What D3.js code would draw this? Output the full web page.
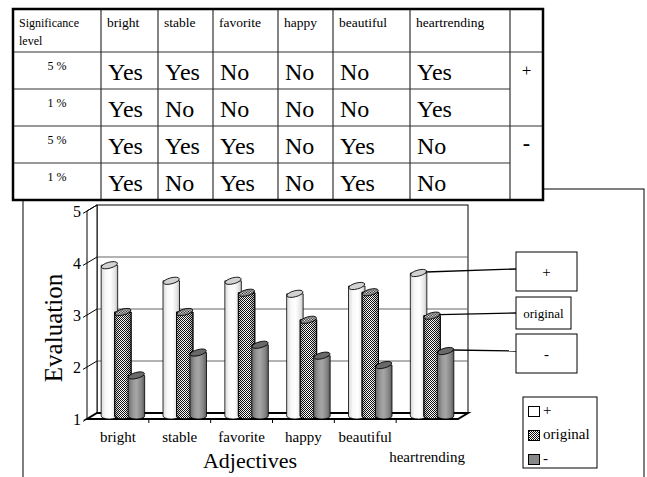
<!DOCTYPE html>
<html>
<head>
<meta charset="utf-8">
<title>Adjective evaluation</title>
<script src="https://d3js.org/d3.v7.min.js"></script>
<style>
  body { margin: 0; background: #fff; }
</style>
</head>
<body>
<div id="chart"></div>
<script>
// chart data
const adjectives = ["bright", "stable", "favorite", "happy", "beautiful", "heartrending"];
const seriesNames = ["+", "original", "-"];
const plusValues = [3.9, 3.6, 3.6, 3.35, 3.5, 3.75];
const originalValues = [3.0, 3.0, 3.37, 2.85, 3.38, 2.93];
const minusValues = [1.78, 2.22, 2.37, 2.16, 1.98, 2.25];
const yTicks = [1, 2, 3, 4, 5];

// significance table
const tableHeader = ["bright", "stable", "favorite", "happy", "beautiful", "heartrending"];
const levels = ["5 %", "1 %", "5 %", "1 %"];
const signLabels = ["+", "-"];
const tableRows = [
    ["Yes", "Yes", "No", "No", "No", "Yes"],
    ["Yes", "No", "No", "No", "No", "Yes"],
    ["Yes", "Yes", "Yes", "No", "Yes", "No"],
    ["Yes", "No", "Yes", "No", "Yes", "No"]
];

const FONT = "'Liberation Serif', 'Times New Roman', 'DejaVu Serif', serif";
const W = 647, H = 477;
const svg = d3.select("#chart").append("svg")
    .attr("width", W)
    .attr("height", H)
    .attr("font-family", FONT)
    .style("font-family", FONT);

const defs = svg.append("defs");

function gradient(id, stops) {
    const g = defs.append("linearGradient").attr("id", id)
        .attr("x1", "0").attr("x2", "1").attr("y1", "0").attr("y2", "0");
    stops.forEach(s => g.append("stop").attr("offset", s[0]).attr("stop-color", s[1]).attr("stop-opacity", s[2] == null ? 1 : s[2]));
}
gradient("plusGrad", [[0, "#d6d6d6"], [0.25, "#f8f8f8"], [0.55, "#ffffff"], [0.85, "#e4e4e4"], [1, "#b8b8b8"]]);
gradient("minusGrad", [[0, "#6a6a6a"], [0.3, "#999"], [0.5, "#a6a6a6"], [0.8, "#858585"], [1, "#5a5a5a"]]);
gradient("shadeGrad", [[0, "#000", 0.25], [0.35, "#000", 0], [0.6, "#000", 0], [1, "#000", 0.35]]);

// checker pattern for "original"
const pat = defs.append("pattern").attr("id", "checker")
    .attr("patternUnits", "userSpaceOnUse").attr("width", 2).attr("height", 2);
pat.append("rect").attr("width", 2).attr("height", 2).attr("fill", "#fff");
pat.append("rect").attr("width", 1).attr("height", 1).attr("fill", "#111");
pat.append("rect").attr("x", 1).attr("y", 1).attr("width", 1).attr("height", 1).attr("fill", "#111");

const fills = {"+": "url(#plusGrad)", "original": "url(#checker)", "-": "url(#minusGrad)"};
const topFills = {"+": "#d2d2d2", "original": "url(#checker)", "-": "#696969"};

// outer chart frame
svg.append("rect")
    .attr("x", 23).attr("y", 189).attr("width", 621).attr("height", 310)
    .attr("fill", "#fff").attr("stroke", "#000").attr("stroke-width", 1);

// scales (front edge of the 3D box)
const x = d3.scaleBand().domain(adjectives).range([87, 458]);
const y = d3.scaleLinear().domain([1, 5]).range([419, 211]);
const inner = d3.scalePoint().domain(seriesNames).range([-13.5, 13.5]);
const dx = 10, dy = -6;

const g = svg.append("g");

// back wall
g.append("rect")
    .attr("x", 87 + dx).attr("y", y(5) + dy)
    .attr("width", 458 - 87).attr("height", y(1) - y(5))
    .attr("fill", "#fff").attr("stroke", "#000").attr("stroke-width", 1);

g.selectAll(".grid")
    .data(yTicks.slice(1, 4))
    .enter()
    .append("line")
    .attr("x1", 87 + dx).attr("x2", 458 + dx)
    .attr("y1", d => y(d) + dy).attr("y2", d => y(d) + dy)
    .attr("stroke", "#666").attr("stroke-width", 1);

// left wall
g.append("polygon")
    .attr("points", [[87, y(5)], [87 + dx, y(5) + dy], [87 + dx, y(1) + dy], [87, y(1)]].join(" "))
    .attr("fill", "#fff").attr("stroke", "#000").attr("stroke-width", 1);

g.selectAll(".ytick")
    .data(yTicks)
    .enter()
    .append("line")
    .attr("x1", 83).attr("y1", d => y(d) + 2.4)
    .attr("x2", 87 + dx).attr("y2", d => y(d) + dy)
    .attr("stroke", "#000").attr("stroke-width", 1);

// floor
g.append("polygon")
    .attr("points", [[87, y(1)], [458, y(1)], [458 + dx, y(1) + dy], [87 + dx, y(1) + dy]].join(" "))
    .attr("fill", "#fff").attr("stroke", "#000").attr("stroke-width", 2);

g.selectAll(".xtick")
    .data(adjectives.slice(1))
    .enter()
    .append("line")
    .attr("x1", d => x(d)).attr("x2", d => x(d))
    .attr("y1", y(1)).attr("y2", y(1) + 4)
    .attr("stroke", "#000").attr("stroke-width", 1);

// cylinders
const rx = 8.25, ry = 3;
const series = [
    {name: "+", values: plusValues},
    {name: "original", values: originalValues},
    {name: "-", values: minusValues}
];

function barCx(cat, s) {
    return x(cat) + x.bandwidth() / 2 + dx / 2 + inner(s);
}
function barTop(v) {
    return y(v) + dy / 2;
}

series.forEach(s => {
    const bars = g.selectAll(".bar-" + seriesNames.indexOf(s.name))
        .data(s.values.map((v, i) => ({cat: adjectives[i], v: v})))
        .enter()
        .append("g");

    const body = d => {
        const cx = barCx(d.cat, s.name), t = barTop(d.v), b = barTop(1);
        return `M${cx - rx},${t} L${cx - rx},${b} A${rx},${ry} 0 0 0 ${cx + rx},${b} L${cx + rx},${t} Z`;
    };

    bars.append("path")
        .attr("d", body)
        .attr("fill", fills[s.name])
        .attr("stroke", "#000").attr("stroke-width", 0.8);

    if (s.name === "original") {
        bars.append("path")
            .attr("d", body)
            .attr("fill", "url(#shadeGrad)")
            .attr("stroke", "#000").attr("stroke-width", 0.8);
    }

    bars.append("ellipse")
        .attr("cx", d => barCx(d.cat, s.name))
        .attr("cy", d => barTop(d.v))
        .attr("rx", rx).attr("ry", ry)
        .attr("transform", d => `rotate(-15,${barCx(d.cat, s.name)},${barTop(d.v)})`)
        .attr("fill", topFills[s.name])
        .attr("stroke", "#000").attr("stroke-width", 0.8);
});

// axis labels
g.selectAll(".ylab")
    .data(yTicks)
    .enter()
    .append("text")
    .attr("x", 81).attr("y", d => y(d) + 2)
    .attr("text-anchor", "end")
    .attr("dominant-baseline", "middle")
    .style("font-size", "16px")
    .text(d => d);

g.selectAll(".xlab")
    .data(adjectives)
    .enter()
    .append("text")
    .attr("x", d => x(d) + x.bandwidth() / 2)
    .attr("y", (d, i) => i === adjectives.length - 1 ? 462 : 442)
    .attr("text-anchor", "middle")
    .style("font-size", "15px")
    .text(d => d);

svg.append("text")
    .attr("transform", "translate(62,328) rotate(-90)")
    .attr("text-anchor", "middle")
    .style("font-size", "25px")
    .text("Evaluation");

svg.append("text")
    .attr("x", 250).attr("y", 468)
    .attr("text-anchor", "middle")
    .style("font-size", "22px")
    .text("Adjectives");

// callout boxes pointing at the last group
const callouts = [
    {name: "+", box: [516, 252, 61, 39], end: [516, 269]},
    {name: "original", box: [516, 297, 55, 32], end: [516, 313]},
    {name: "-", box: [516, 334, 61, 39], end: [516, 351]}
];
const lastCat = adjectives[adjectives.length - 1];
callouts.forEach((c, i) => {
    const v = series[i].values[adjectives.length - 1];
    svg.append("line")
        .attr("x1", barCx(lastCat, c.name) + rx - 1).attr("y1", barTop(v) - 1)
        .attr("x2", c.end[0]).attr("y2", c.end[1])
        .attr("stroke", "#000").attr("stroke-width", 1.3);
    svg.append("rect")
        .attr("x", c.box[0]).attr("y", c.box[1])
        .attr("width", c.box[2]).attr("height", c.box[3])
        .attr("fill", "#fff").attr("stroke", "#000").attr("stroke-width", 1);
    svg.append("text")
        .attr("x", c.box[0] + c.box[2] / 2).attr("y", c.box[1] + c.box[3] / 2)
        .attr("text-anchor", "middle")
        .attr("dominant-baseline", "central")
        .style("font-size", c.name === "original" ? "13px" : "15px")
        .text(c.name);
});

// legend
const legend = svg.append("g").attr("transform", "translate(523,397)");
legend.append("rect")
    .attr("width", 74).attr("height", 71)
    .attr("fill", "#fff").attr("stroke", "#000").attr("stroke-width", 1);
const legendFills = {"+": "#fff", "original": "url(#checker)", "-": "#888"};
seriesNames.forEach((n, i) => {
    legend.append("rect")
        .attr("x", 5.5).attr("y", 9.5 + i * 24)
        .attr("width", 11).attr("height", 10)
        .attr("fill", legendFills[n])
        .attr("stroke", "#000").attr("stroke-width", 1);
    legend.append("text")
        .attr("x", 20).attr("y", 15 + i * 24)
        .attr("dominant-baseline", "middle")
        .style("font-size", "15px")
        .text(n);
});

// significance table on top
const colEdges = [13, 101, 158, 213, 278, 333, 410, 510, 543];
const rowEdges = [9, 52, 89, 126, 163, 200];
const t = svg.append("g");

t.append("rect")
    .attr("x", colEdges[0]).attr("y", rowEdges[0])
    .attr("width", colEdges[8] - colEdges[0]).attr("height", rowEdges[5] - rowEdges[0])
    .attr("fill", "#fff");

colEdges.slice(1, 8).forEach(cx => {
    t.append("line")
        .attr("x1", cx).attr("x2", cx)
        .attr("y1", rowEdges[0]).attr("y2", rowEdges[5])
        .attr("stroke", "#333").attr("stroke-width", 1.2);
});
rowEdges.slice(1, 5).forEach((ry2, i) => {
    const full = i % 2 === 0;
    t.append("line")
        .attr("x1", colEdges[0]).attr("x2", full ? colEdges[8] : colEdges[7])
        .attr("y1", ry2).attr("y2", ry2)
        .attr("stroke", "#333").attr("stroke-width", 1.2);
});

t.append("rect")
    .attr("x", colEdges[0]).attr("y", rowEdges[0])
    .attr("width", colEdges[8] - colEdges[0]).attr("height", rowEdges[5] - rowEdges[0])
    .attr("fill", "none").attr("stroke", "#000").attr("stroke-width", 2.5);

t.append("text").attr("x", 19).attr("y", 27).style("font-size", "12px").text("Significance");
t.append("text").attr("x", 19).attr("y", 45).style("font-size", "12px").text("level");

tableHeader.forEach((h, i) => {
    t.append("text")
        .attr("x", colEdges[i + 1] + 6).attr("y", 27)
        .style("font-size", "13.5px")
        .text(h);
});

levels.forEach((l, r) => {
    t.append("text")
        .attr("x", (colEdges[0] + colEdges[1]) / 2).attr("y", rowEdges[r + 1] + 18)
        .attr("text-anchor", "middle")
        .style("font-size", "12px")
        .text(l);
    tableRows[r].forEach((cell, c) => {
        t.append("text")
            .attr("x", colEdges[c + 1] + 7).attr("y", rowEdges[r + 2] - 9)
            .style("font-size", "24px")
            .text(cell);
    });
});

signLabels.forEach((s, i) => {
    t.append("text")
        .attr("x", (colEdges[7] + colEdges[8]) / 2).attr("y", rowEdges[1 + i * 2] + 24)
        .attr("text-anchor", "middle")
        .style("font-size", s === "-" ? "22px" : "17px")
        .style("font-weight", s === "-" ? "bold" : "normal")
        .text(s);
});
</script>
</body>
</html>
